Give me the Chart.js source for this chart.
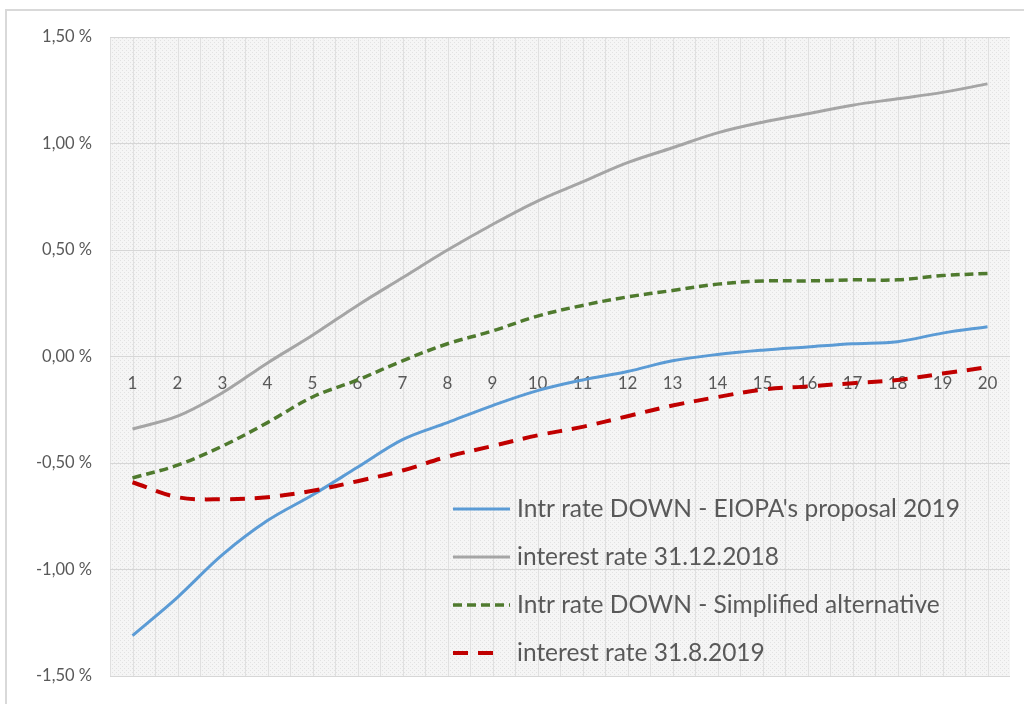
<!DOCTYPE html>
<html>
<head>
<meta charset="utf-8">
<script src="https://cdn.jsdelivr.net/npm/chart.js@4/dist/chart.umd.min.js"></script>
<style>
  html, body { margin: 0; padding: 0; background: #fff; overflow: hidden; }
  #wrap { position: relative; width: 1024px; height: 704px; }
  #frame { position: absolute; left: 5px; top: 9px; width: 1030px; height: 710px; border: 2px solid #d9d9d9; box-sizing: border-box; pointer-events: none; }
  canvas { position: absolute; left: 0; top: 0; }
</style>
</head>
<body>
<div id="wrap">
  <canvas id="c" width="1024" height="704"></canvas>
  <div id="frame"></div>
</div>
<script>
// Maturities (years)
const maturities = ['1','2','3','4','5','6','7','8','9','10','11','12','13','14','15','16','17','18','19','20'];

// Interest rates in %
const eiopaDown = [-1.31, -1.13, -0.93, -0.77, -0.65, -0.52, -0.39, -0.31, -0.23, -0.16,
                   -0.11, -0.07, -0.02, 0.01, 0.03, 0.045, 0.06, 0.07, 0.11, 0.14];
const rate20181231 = [-0.34, -0.28, -0.17, -0.03, 0.10, 0.24, 0.37, 0.50, 0.62, 0.73,
                      0.82, 0.91, 0.98, 1.05, 1.10, 1.14, 1.18, 1.21, 1.24, 1.28];
const simplifiedDown = [-0.57, -0.51, -0.42, -0.31, -0.19, -0.11, -0.02, 0.06, 0.12, 0.19,
                        0.24, 0.28, 0.31, 0.34, 0.355, 0.355, 0.36, 0.36, 0.38, 0.39];
const rate20190831 = [-0.59, -0.66, -0.67, -0.66, -0.63, -0.585, -0.535, -0.47, -0.42, -0.37,
                      -0.33, -0.28, -0.23, -0.19, -0.155, -0.14, -0.125, -0.11, -0.08, -0.05];

const seriesNames = [
  "Intr rate DOWN - EIOPA's proposal 2019",
  'interest rate 31.12.2018',
  'Intr rate DOWN - Simplified alternative',
  'interest rate 31.8.2019'
];

const yTicks = [-1.5, -1.0, -0.5, 0, 0.5, 1.0, 1.5];

const FONT = 'Lato, "Open Sans", sans-serif';
const TEXT = '#595959';

// Light hatched plot-area background
const plotBackground = {
  id: 'plotBackground',
  beforeDraw(chart) {
    const { ctx, chartArea: a, scales } = chart;
    const tile = document.createElement('canvas');
    tile.width = 4; tile.height = 4;
    const t = tile.getContext('2d');
    t.fillStyle = '#f5f5f5';
    t.fillRect(0, 0, 4, 4);
    t.fillStyle = '#e2e2e2';
    t.fillRect(0, 0, 1, 1);
    t.fillRect(2, 2, 1, 1);
    ctx.save();
    ctx.fillStyle = ctx.createPattern(tile, 'repeat');
    ctx.fillRect(a.left, a.top, a.width, a.height);
    // faint vertical stripes at every half step of the category axis
    const x = scales.x;
    const half = (x.getPixelForValue(1) - x.getPixelForValue(0)) / 2;
    ctx.strokeStyle = '#e0e0e0';
    ctx.lineWidth = 1;
    for (let i = 0; i < maturities.length; i++) {
      const cx = x.getPixelForValue(i);
      [cx - half, cx].forEach(px => {
        ctx.beginPath();
        ctx.moveTo(Math.round(px) + 0.5, a.top);
        ctx.lineTo(Math.round(px) + 0.5, a.bottom);
        ctx.stroke();
      });
    }
    ctx.restore();
  }
};

// Legend drawn inside the plot area, lower right
const innerLegend = {
  id: 'innerLegend',
  afterDatasetsDraw(chart) {
    const { ctx } = chart;
    const x0 = 453, x1 = 510, tx = 517, y0 = 509, step = 48;
    ctx.save();
    chart.data.datasets.forEach((ds, i) => {
      const y = y0 + i * step;
      const dash = ds.borderDash || [];
      // long dashes stop short of the text, leaving two whole dashes
      const end = dash.length && dash[0] >= 12 ? x0 + 2 * dash[0] + dash[1] : x1;
      ctx.beginPath();
      ctx.strokeStyle = ds.borderColor;
      ctx.lineWidth = ds.borderWidth;
      ctx.setLineDash(dash);
      ctx.moveTo(x0, y);
      ctx.lineTo(end, y);
      ctx.stroke();
      ctx.setLineDash([]);
      ctx.fillStyle = TEXT;
      ctx.font = '24.5px ' + FONT;
      ctx.textBaseline = 'middle';
      ctx.textAlign = 'left';
      ctx.fillText(ds.label, tx, y);
    });
    ctx.restore();
  }
};

new Chart(document.getElementById('c'), {
  type: 'line',
  data: {
    labels: maturities,
    datasets: [
      { label: seriesNames[0], data: eiopaDown, borderColor: '#5b9bd5', borderWidth: 3, order: 2 },
      { label: seriesNames[1], data: rate20181231, borderColor: '#a5a5a5', borderWidth: 3, order: 3 },
      { label: seriesNames[2], data: simplifiedDown, borderColor: '#4f7a2e', borderWidth: 3.5, borderDash: [9, 5], order: 1 },
      { label: seriesNames[3], data: rate20190831, borderColor: '#c00000', borderWidth: 4, borderDash: [15, 10], order: 0 }
    ]
  },
  options: {
    responsive: false,
    animation: false,
    devicePixelRatio: 1,
    layout: { padding: { left: 0, right: 14, top: 37, bottom: 20 } },
    elements: {
      point: { radius: 0, hoverRadius: 0 },
      line: { tension: 0.35, fill: false, borderCapStyle: 'butt' }
    },
    plugins: {
      legend: { display: false },
      tooltip: { enabled: false }
    },
    scales: {
      x: {
        type: 'category',
        position: { y: 0 },
        offset: true,
        grid: { display: false, drawTicks: false },
        border: { display: false },
        ticks: {
          color: TEXT,
          font: { family: FONT, size: 17 },
          padding: 17,
          maxRotation: 0,
          autoSkip: false
        }
      },
      y: {
        min: -1.5,
        max: 1.5,
        afterFit(scale) { scale.width = 110; },
        afterBuildTicks(scale) { scale.ticks = yTicks.map(v => ({ value: v })); },
        grid: { color: '#d6d6d6', lineWidth: 1, drawTicks: false },
        border: { display: false },
        ticks: {
          color: TEXT,
          font: { family: FONT, size: 16.5 },
          padding: 18,
          callback: v => v.toFixed(2).replace('.', ',') + ' %'
        }
      }
    }
  },
  plugins: [plotBackground, innerLegend]
});
</script>
</body>
</html>
